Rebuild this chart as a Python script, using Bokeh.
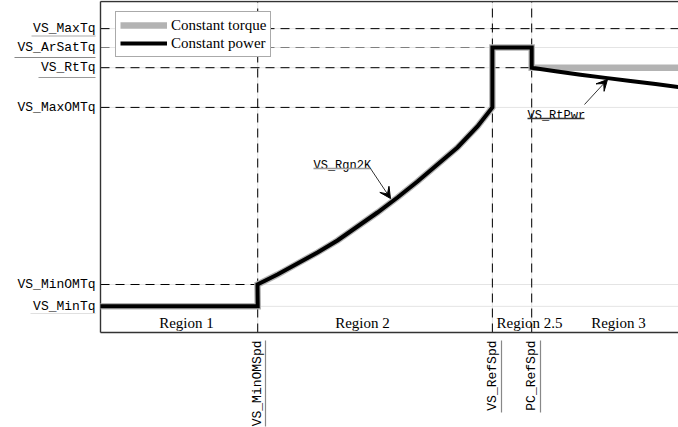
from math import pi
from bokeh.plotting import figure
from bokeh.models import Range1d, Label, Arrow, VeeHead, Legend, LegendItem
from bokeh.core.properties import value
from bokeh.embed import file_html
from bokeh.resources import INLINE

# Generator speed set-points (percent of plotted speed range)
spd_names = ["VS_MinOMSpd", "VS_RefSpd", "PC_RefSpd"]
spd_values = [27.2, 67.8, 74.6]

# Generator torque levels (percent of plotted torque range)
tq_names = ["VS_MinTq", "VS_MinOMTq", "VS_MaxOMTq", "VS_RtTq", "VS_ArSatTq", "VS_MaxTq"]
tq_values = [7.9, 14.5, 68.0, 80.0, 86.1, 91.8]

# Region 2: optimal-mode torque curve
rgn2_speed = [27.16, 30.62, 34.08, 37.54, 41.00, 44.46, 47.92, 51.38, 54.84, 58.30,
              61.76, 65.22, 67.8]
rgn2_torque = [14.5, 17.52, 20.85, 24.17, 27.79, 32.02, 36.25, 40.79, 45.62, 50.76,
               55.89, 62.24, 68.0]

# Region 3: constant-power torque
rgn3_speed = [74.6, 78.72, 83.04, 87.37, 91.70, 96.02, 100.0]
rgn3_torque = [80.0, 78.91, 77.89, 76.92, 75.98, 75.08, 74.17]

region_names = ["Region 1", "Region 2", "Region 2.5", "Region 3"]

min_om_spd, ref_spd, pc_ref_spd = spd_values
min_tq, min_om_tq, max_om_tq, rt_tq, ar_sat_tq, max_tq = tq_values

W, H = 678, 427
LEFT, BOTTOM = 100, 95          # room kept for the set-point names
X_END, Y_END = 100.0, 100.3     # data values at the right / top edge
PX_X = (W - LEFT) / X_END
PX_Y = (H - BOTTOM) / Y_END

MONO = "Liberation Mono"
SERIF = "Liberation Serif"
AXIS_COLOR = "#333333"


def at(px, py):
    """Canvas pixel position -> data coordinates."""
    return ((px - LEFT) / PX_X, (H - BOTTOM - py) / PX_Y)


# the data frame spans the whole canvas so names and their rules are drawn in data space
p = figure(width=W, height=H,
           x_range=Range1d(-LEFT / PX_X, X_END), y_range=Range1d(-BOTTOM / PX_Y, Y_END),
           output_backend="svg", toolbar_location=None,
           x_axis_location=None, y_axis_location=None,
           min_border=0, min_border_left=0, min_border_right=0,
           min_border_top=0, min_border_bottom=0)
p.outline_line_color = None
p.background_fill_color = "white"
p.border_fill_color = "white"
p.xgrid.visible = False
p.ygrid.visible = False

# light grid at every set-point
GRID = "#e4e4e4"
p.segment(x0=[0] * len(tq_values), x1=[X_END] * len(tq_values), y0=tq_values, y1=tq_values,
          line_color=GRID, line_width=1)
p.segment(x0=spd_values, x1=spd_values, y0=[0] * 3, y1=[100.0] * 3,
          line_color=GRID, line_width=1)

# dashed guide lines
DASH = "9 6"
h_x1 = [X_END, ref_spd, X_END, ref_spd, min_om_spd]
h_y = [max_tq, ar_sat_tq, rt_tq, max_om_tq, min_om_tq]
h_col = ["black", "#808080", "black", "black", "black"]
p.segment(x0=[0] * 5, x1=h_x1, y0=h_y, y1=h_y, line_color=h_col,
          line_width=1, line_dash=DASH)
p.segment(x0=spd_values, x1=spd_values, y0=[0] * 3, y1=[100.0] * 3,
          line_color="black", line_width=1, line_dash=DASH)

# axis box: left, bottom and top edges
p.segment(x0=[0, 0, 0], x1=[0, X_END, X_END], y0=[0, 0, 100.0], y1=[100.0, 0, 100.0],
          line_color=AXIS_COLOR, line_width=1.4)

# torque schedules
base_x = [0, min_om_spd] + rgn2_speed + [ref_spd, pc_ref_spd, pc_ref_spd]
base_y = [min_tq, min_tq] + rgn2_torque + [ar_sat_tq, ar_sat_tq, rt_tq]

r_tq = p.line(base_x + [X_END], base_y + [rt_tq], line_color="#b3b3b3", line_width=6.5,
              line_join="miter")
r_pw = p.line(base_x + rgn3_speed[1:], base_y + rgn3_torque[1:], line_color="black",
              line_width=4, line_join="miter")

# torque level names, right-aligned against the left edge
name_x = at(95, 0)[0]
p.text(x=[name_x] * len(tq_values), y=tq_values, text=tq_names, text_font=value(MONO),
       text_font_size="13px", text_align="right", text_baseline="middle",
       text_color="black")

# speed set-point names, reading upward below the bottom edge
name_top = at(0, 340)[1]
p.text(x=spd_values, y=[name_top] * 3, text=spd_names, text_font=value(MONO),
       text_font_size="13px", text_align="right", text_baseline="middle",
       angle=pi / 2, text_color="black")

# rules under some of the names
rules = [  # (x0, y0, x1, y1) in canvas pixels, colour
    ((31, 35.5, 95, 35.5), "#aaaaaa"),
    ((14, 57, 95, 57), "#888888"),
    ((38, 77, 95, 77), "#999999"),
    ((30, 313, 95, 313), "#e0e0e0"),
    ((265, 340, 265, 426), "#888888"),
    ((501, 340, 501, 412), "#888888"),
    ((540, 340, 540, 412), "#888888"),
]
rx0, ry0, rx1, ry1, rcol = [], [], [], [], []
for (a, b, c, d), col in rules:
    x0, y0 = at(a, b)
    x1, y1 = at(c, d)
    rx0.append(x0); ry0.append(y0); rx1.append(x1); ry1.append(y1); rcol.append(col)
p.segment(x0=rx0, y0=ry0, x1=rx1, y1=ry1, line_color=rcol, line_width=1.2)

legend = Legend(items=[LegendItem(label="Constant torque", renderers=[r_tq]),
                       LegendItem(label="Constant power", renderers=[r_pw])],
                location=(115, H - 57), orientation="vertical")
legend.label_text_font = SERIF
legend.label_text_font_size = "15px"
legend.label_text_color = "black"
legend.glyph_width = 47
legend.glyph_height = 18
legend.label_height = 18
legend.label_standoff = 4
legend.padding = 4
legend.spacing = 0
legend.margin = 0
legend.border_line_color = "#555555"
legend.border_line_width = 1
legend.background_fill_color = "white"
legend.background_fill_alpha = 1
p.add_layout(legend)

# region names
region_x = [at(186, 0)[0], at(362, 0)[0], at(529, 0)[0], at(618, 0)[0]]
region_y = [at(0, 322)[1]] * 4
p.text(x=region_x, y=region_y, text=region_names, text_font=value(SERIF),
       text_font_size="15px", text_align="center", text_baseline="middle",
       text_color="black")

# call-outs
for name, tx, ty, ux1, tail, tip, ucol in [
    ("VS_Rgn2K", 313, 165, 370, (370, 168), (390, 198), "#999999"),
    ("VS_RtPwr", 527, 115, 584, (584, 104), (607, 79), "#333333"),
]:
    lx, ly = at(tx, ty)
    p.add_layout(Label(x=lx, y=ly, text=name, text_font=MONO, text_font_size="12px",
                       text_baseline="alphabetic", text_align="left", text_color="black"))
    ux0, uy = at(tx, ty + 3)
    ux1d, _ = at(ux1, ty + 3)
    p.add_layout(Arrow(end=None, x_start=ux0, y_start=uy, x_end=ux1d, y_end=uy,
                       line_color=ucol, line_width=1.3))
    x0, y0 = at(*tail)
    x1, y1 = at(*tip)
    p.add_layout(Arrow(end=VeeHead(size=11, fill_color="black", line_color="black",
                                   line_width=1),
                       x_start=x0, y_start=y0, x_end=x1, y_end=y1,
                       line_color="black", line_width=0.8))

open("out.html", "w").write(file_html(p, INLINE))
